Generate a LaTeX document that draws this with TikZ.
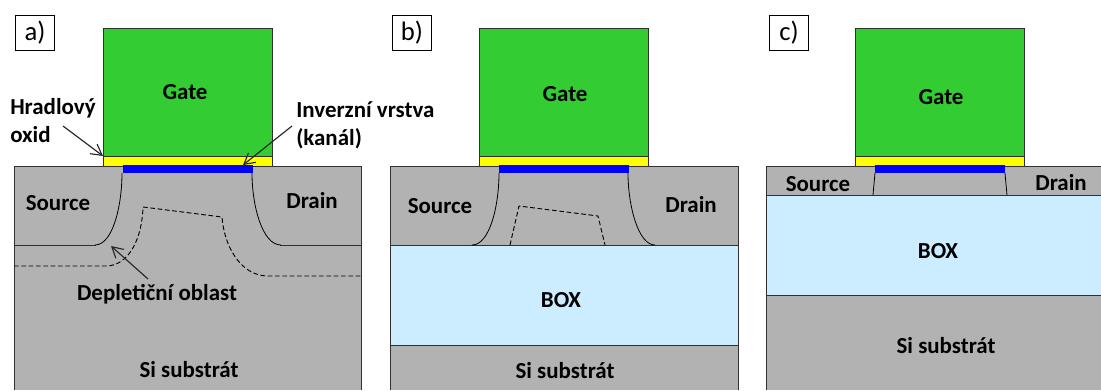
\documentclass[tikz,border=0pt]{standalone}
\usepackage{fontspec}
\setmainfont{Carlito}
\usetikzlibrary{arrows.meta}
\definecolor{gategreen}{HTML}{33CC33}
\definecolor{oxidyellow}{HTML}{FFFF00}
\definecolor{chanblue}{HTML}{0000FF}
\definecolor{sigrey}{HTML}{B2B2B2}
\definecolor{boxblue}{HTML}{CCECFF}
\definecolor{edgegrey}{HTML}{303030}
\begin{document}
\begin{tikzpicture}[x=0.75pt, y=-0.75pt,
    lbl/.style={font=\fontsize{17.2}{21}\selectfont\bfseries, align=center, inner sep=0pt, text=black, yshift=-0.7pt},
    tag/.style={draw=black, line width=1.1pt, fill=white, minimum width=29.5pt, minimum height=26pt,
                inner sep=0pt, font=\fontsize{20}{24}\selectfont},
    gate/.style={draw=edgegrey, line width=0.7pt, fill=gategreen},
    oxid/.style={draw=edgegrey, line width=0.7pt, fill=oxidyellow},
    chan/.style={fill=chanblue},
    si/.style={fill=sigrey},
    bx/.style={fill=boxblue},
    edge/.style={draw=edgegrey, line width=0.7pt},
    junction/.style={black, line width=0.6pt},
    depl/.style={black, line width=0.7pt, dash pattern=on 3.5pt off 2pt},
    arr/.style={-{Straight Barb[length=8pt, width=9pt]}, black!85, line width=0.85pt}]
  \useasboundingbox (0,0) rectangle (1101,390);
  % a)
  \fill[si] (14,166) rectangle (361,390);
  \draw[edge] (14,390) -- (14,166) -- (361,166) -- (361,390);
  \draw[edge] (14,245) -- (96,245);
  \draw[edge] (280,245) -- (361,245);
  \draw[junction] (122,173) .. controls (122,205) and (113,245) .. (95,245);
  \draw[junction] (252,173) .. controls (252,205) and (262,245) .. (281,245);
  \draw[depl] (14,266) -- (106,266) .. controls (128,266) and (142,240) .. (143,207)
    -- (222,217) .. controls (224,245) and (240,276) .. (268,276) -- (361,276);
  \draw[gate] (103,28) rectangle (272,156);
  \draw[oxid] (103,156) rectangle (272,166);
  \fill[chan] (123,165) rectangle (253,173);
  \node[tag] (taga) at (35,33) {a)};
  \node[lbl] (gatea) at (185,91) {Gate};
  \node[lbl] (sourcea) at (58,202) {Source};
  \node[lbl] (draina) at (312,200) {Drain};
  \node[lbl] (suba) at (189,369) {Si substrát};
  \node[lbl] (depla) at (157,293) {Depletiční oblast};
  \node[lbl, align=left, anchor=west] (oxlabel) at (10,120) {Hradlový\\oxid};
  \node[lbl, align=left, anchor=west] (invlabel) at (296,124) {Inverzní vrstva\\(kanál)};
  \coordinate (oxfrom) at (63,126);
  \coordinate (oxto) at (103,156);
  \coordinate (invfrom) at (292,126);
  \coordinate (invto) at (243,165);
  \coordinate (deplfrom) at (148,279);
  \coordinate (deplto) at (111,246);
  \draw[arr] (oxfrom) -- (oxto);
  \draw[arr] (invfrom) -- (invto);
  \draw[arr] (deplfrom) -- (deplto);
  % b)
  \fill[si] (390,166) rectangle (738,245);
  \fill[bx] (390,245) rectangle (738,345);
  \fill[si] (390,345) rectangle (738,390);
  \draw[edge] (390,390) -- (390,166) -- (738,166) -- (738,390);
  \draw[edge] (390,245) -- (738,245);
  \draw[edge] (390,345) -- (738,345);
  \draw[junction] (499,173) .. controls (499,205) and (490,245) .. (472,245);
  \draw[junction] (628,173) .. controls (628,205) and (638,245) .. (655,245);
  \draw[depl] (510,245) -- (519,206) -- (598,216) -- (605,245);
  \draw[gate] (479,28) rectangle (648,156);
  \draw[oxid] (479,156) rectangle (648,166);
  \fill[chan] (499,165) rectangle (629,173);
  \node[tag] (tagb) at (412,33) {b)};
  \node[lbl] (gateb) at (565,93) {Gate};
  \node[lbl] (sourceb) at (440,205) {Source};
  \node[lbl] (drainb) at (691,204) {Drain};
  \node[lbl] (boxb) at (561,299) {BOX};
  \node[lbl] (subb) at (565,370) {Si substrát};
  % c)
  \fill[si] (766,166) rectangle (1101,195);
  \fill[bx] (766,195) rectangle (1101,295);
  \fill[si] (766,295) rectangle (1101,390);
  \draw[edge] (766,390) -- (766,166) -- (1101,166);
  \draw[edge] (766,195) -- (1101,195);
  \draw[edge] (766,295) -- (1101,295);
  \draw[junction] (875,173) -- (873,195);
  \draw[junction] (1005,173) -- (1007,195);
  \draw[gate] (855,28) rectangle (1024,156);
  \draw[oxid] (855,156) rectangle (1024,166);
  \fill[chan] (875,165) rectangle (1005,173);
  \node[tag] (tagc) at (789,33) {c)};
  \node[lbl] (gatec) at (941,96) {Gate};
  \node[lbl] (sourcec) at (818,183) {Source};
  \node[lbl] (drainc) at (1061,182) {Drain};
  \node[lbl] (boxc) at (938,250) {BOX};
  \node[lbl] (subc) at (946,345) {Si substrát};
\end{tikzpicture}
\end{document}
